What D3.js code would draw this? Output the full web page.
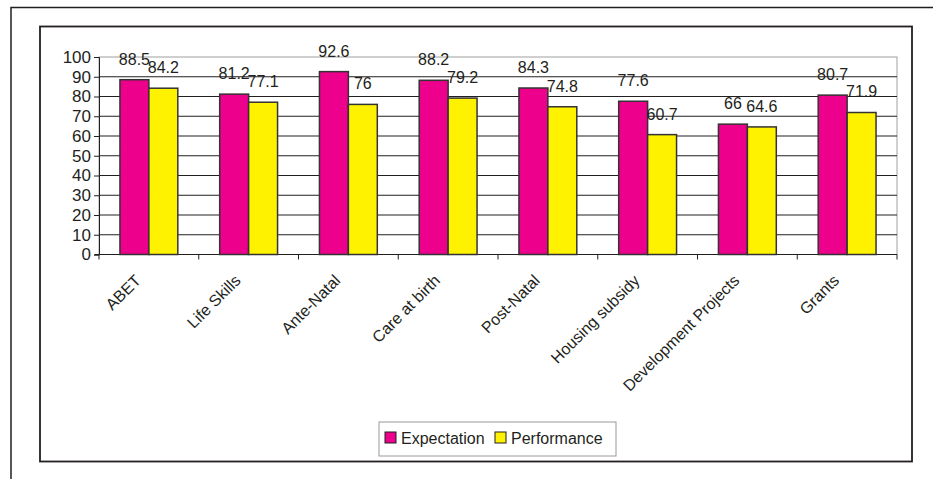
<!DOCTYPE html>
<html>
<head>
<meta charset="utf-8">
<script src="https://cdn.jsdelivr.net/npm/d3@7"></script>
<style>
  body { margin: 0; background: #fff; }
  text { font-family: Arial, "Liberation Sans", sans-serif; fill: #231f20; }
</style>
</head>
<body>
<div id="chart"></div>
<script>
// chart data
var categories = ["ABET", "Life Skills", "Ante-Natal", "Care at birth", "Post-Natal",
                  "Housing subsidy", "Development Projects", "Grants"];
var seriesNames = ["Expectation", "Performance"];
var expectation = [88.5, 81.2, 92.6, 88.2, 84.3, 77.6, 66, 80.7];
var performance = [84.2, 77.1, 76, 79.2, 74.8, 60.7, 64.6, 71.9];
var yTicks = [0, 10, 20, 30, 40, 50, 60, 70, 80, 90, 100];

var colors = ["#ec008c", "#fff200"];

var width = 933, height = 479;
var plot = { left: 99, top: 57, right: 897, bottom: 254.5 };

var svg = d3.select("#chart").append("svg")
    .attr("width", width)
    .attr("height", height);

// outer frame (runs off page at right and bottom)
svg.append("path")
    .attr("d", "M11,480 L11,7.5 L934,7.5")
    .attr("fill", "none")
    .attr("stroke", "#231f20")
    .attr("stroke-width", 1.5);

// chart frame
svg.append("rect")
    .attr("x", 40).attr("y", 26.5)
    .attr("width", 872).attr("height", 435)
    .attr("fill", "#fff")
    .attr("stroke", "#231f20")
    .attr("stroke-width", 1.8);

var x0 = d3.scaleBand()
    .domain(categories)
    .range([plot.left, plot.right])
    .paddingInner(0.42)
    .paddingOuter(0.21);

var x1 = d3.scaleBand()
    .domain(seriesNames)
    .range([0, x0.bandwidth()]);

var y = d3.scaleLinear()
    .domain([0, 100])
    .range([plot.bottom, plot.top]);

// plot area border
svg.append("rect")
    .attr("x", plot.left).attr("y", plot.top)
    .attr("width", plot.right - plot.left).attr("height", plot.bottom - plot.top)
    .attr("fill", "none")
    .attr("stroke", "#a0a0a0")
    .attr("stroke-width", 1);

// gridlines
svg.append("g")
    .selectAll("line")
    .data(yTicks.filter(function(d) { return d > 0 && d < 100; }))
    .enter().append("line")
    .attr("x1", plot.left).attr("x2", plot.right)
    .attr("y1", function(d) { return y(d); })
    .attr("y2", function(d) { return y(d); })
    .attr("stroke", "#231f20")
    .attr("stroke-width", 1);

// y axis
var yAxis = svg.append("g")
    .attr("transform", "translate(" + plot.left + ",0)")
    .call(d3.axisLeft(y).tickValues(yTicks).tickSize(5).tickPadding(3));
yAxis.select(".domain").attr("stroke", "#231f20");
yAxis.selectAll(".tick line").attr("stroke", "#231f20");
yAxis.selectAll("text")
    .style("font-size", "17px")
    .attr("fill", "#231f20");

// x axis line and ticks between categories
var step = (plot.right - plot.left) / categories.length;
var xAxisG = svg.append("g");
xAxisG.append("line")
    .attr("x1", plot.left - 4).attr("x2", plot.right)
    .attr("y1", plot.bottom).attr("y2", plot.bottom)
    .attr("stroke", "#231f20").attr("stroke-width", 1.2);
xAxisG.selectAll(".xt")
    .data(d3.range(categories.length + 1))
    .enter().append("line")
    .attr("class", "xt")
    .attr("x1", function(i) { return plot.left + i * step; })
    .attr("x2", function(i) { return plot.left + i * step; })
    .attr("y1", plot.bottom).attr("y2", plot.bottom + 5)
    .attr("stroke", "#231f20");

// category labels
xAxisG.selectAll(".xl")
    .data(categories)
    .enter().append("text")
    .attr("class", "xl")
    .attr("text-anchor", "end")
    .style("font-size", "16px")
    .attr("transform", function(d) {
        var cx = x0(d) + x0.bandwidth() / 2 - 7;
        return "translate(" + cx + "," + (plot.bottom + 27) + ") rotate(-45)";
    })
    .text(function(d) { return d; });

// bars
var rows = categories.map(function(c, i) {
    return { cat: c, values: [expectation[i], performance[i]] };
});

var groups = svg.selectAll(".grp")
    .data(rows)
    .enter().append("g")
    .attr("class", "grp")
    .attr("transform", function(d) { return "translate(" + x0(d.cat) + ",0)"; });

groups.selectAll("rect")
    .data(function(d) { return d.values.map(function(v, j) { return { s: seriesNames[j], v: v, j: j }; }); })
    .enter().append("rect")
    .attr("x", function(d) { return x1(d.s); })
    .attr("y", function(d) { return y(d.v); })
    .attr("width", x1.bandwidth())
    .attr("height", function(d) { return y(0) - y(d.v); })
    .attr("fill", function(d) { return colors[d.j]; })
    .attr("stroke", "#333")
    .attr("stroke-width", 1.5);

groups.selectAll(".val")
    .data(function(d) { return d.values.map(function(v, j) { return { s: seriesNames[j], v: v }; }); })
    .enter().append("text")
    .attr("class", "val")
    .attr("text-anchor", "middle")
    .style("font-size", "16px")
    .attr("x", function(d) { return x1(d.s) + x1.bandwidth() / 2; })
    .attr("y", function(d) { return y(d.v) - 15; })
    .text(function(d) { return d.v; });

// legend
var legend = svg.append("g").attr("transform", "translate(379,422)");
legend.append("rect")
    .attr("width", 237).attr("height", 34)
    .attr("fill", "#fff")
    .attr("stroke", "#999")
    .attr("stroke-width", 1);

var legendX = [6, 116];
seriesNames.forEach(function(name, j) {
    legend.append("rect")
        .attr("x", legendX[j]).attr("y", 10)
        .attr("width", 11).attr("height", 11)
        .attr("fill", colors[j])
        .attr("stroke", "#231f20");
    legend.append("text")
        .attr("x", legendX[j] + 16).attr("y", 22)
        .style("font-size", "16px")
        .text(name);
});
</script>
</body>
</html>
